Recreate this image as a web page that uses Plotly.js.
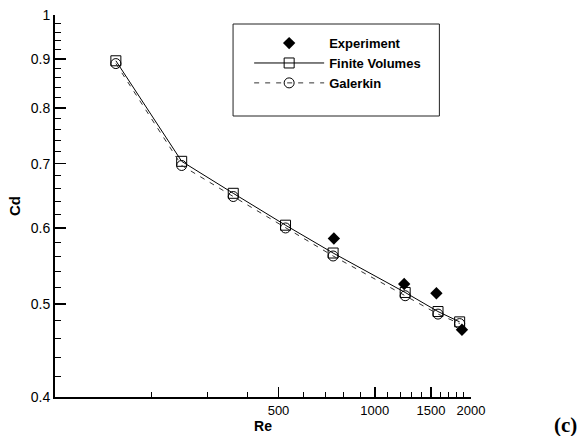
<!DOCTYPE html>
<html><head><meta charset="utf-8">
<script src="https://cdn.plot.ly/plotly-3.0.1.min.js"></script>
<style>html,body{margin:0;padding:0;background:#fff}#chart{width:586px;height:436px}</style>
</head><body><div id="chart"></div>
<script>
// Data
const re = [155, 249, 361, 526, 741, 1245, 1577, 1843];
const cdFiniteVolumes = [0.896, 0.704, 0.652, 0.604, 0.565, 0.514, 0.491, 0.479];
const cdGalerkin = [0.890, 0.697, 0.647, 0.600, 0.561, 0.510, 0.488, 0.477];
const reExperiment = [745, 1236, 1559, 1874];
const cdExperiment = [0.585, 0.5245, 0.513, 0.470];

// Tick values and labels
const xMajorTicks = [500, 1000, 1500, 2000];
const xMajorLabels = ['500', '1000', '1500', '2000'];
const xMinorTicks = [200, 300, 400, 600, 700, 800, 900, 1100, 1200, 1300, 1400, 1600, 1700, 1800, 1900];
const yMajorTicks = [0.4, 0.5, 0.6, 0.7, 0.8, 0.9, 1];
const yMajorLabels = ['0.4', '0.5', '0.6', '0.7', '0.8', '0.9', '1'];
const yMinorTicks = [0.42, 0.44, 0.46, 0.48, 0.52, 0.54, 0.56, 0.58, 0.62, 0.64, 0.66, 0.68,
  0.72, 0.74, 0.76, 0.78, 0.82, 0.84, 0.86, 0.88, 0.92, 0.94, 0.96, 0.98];

const font = 'Liberation Sans, Arial, sans-serif';

const traces = [
  {
    x: re, y: cdFiniteVolumes, name: 'Finite Volumes', type: 'scatter', mode: 'lines+markers',
    line: {color: '#000', width: 1},
    marker: {symbol: 'square-open', size: 10, color: '#000', line: {width: 1, color: '#000'}},
    legendrank: 2
  },
  {
    x: re, y: cdGalerkin, name: 'Galerkin', type: 'scatter', mode: 'lines+markers',
    line: {color: '#333', width: 1, dash: '5px,6px'},
    marker: {symbol: 'circle-open', size: 10, color: '#000', line: {width: 1, color: '#000'}},
    legendrank: 3
  },
  {
    x: reExperiment, y: cdExperiment, name: 'Experiment', type: 'scatter', mode: 'markers',
    marker: {symbol: 'diamond', size: 9.5, color: '#000'},
    legendrank: 1
  }
];

const layout = {
  width: 586, height: 436,
  margin: {l: 55, r: 115.3, t: 15, b: 39, autoexpand: false},
  paper_bgcolor: '#fff', plot_bgcolor: '#fff',
  showlegend: true,
  font: {family: font, color: '#000'},
  xaxis: {
    type: 'log', range: [2, Math.log10(2000)],
    tickmode: 'array', tickvals: xMajorTicks, ticktext: xMajorLabels,
    ticks: 'inside', ticklen: 10, tickwidth: 1.5, tickcolor: '#000',
    tickfont: {family: font, size: 13, color: '#000'},
    minor: {tickmode: 'array', tickvals: xMinorTicks, ticks: 'inside', ticklen: 5, tickwidth: 1, tickcolor: '#000', showgrid: false},
    showline: true, linecolor: '#000', linewidth: 2,
    showgrid: false, zeroline: false, automargin: false,
    title: {text: '<b>Re</b>', font: {family: font, size: 14, color: '#000'}, standoff: 2}
  },
  yaxis: {
    type: 'log', range: [Math.log10(0.4), 0],
    tickmode: 'array', tickvals: yMajorTicks, ticktext: yMajorLabels,
    ticks: 'inside', ticklen: 11, tickwidth: 1.5, tickcolor: '#000',
    tickfont: {family: font, size: 14, color: '#000'},
    minor: {tickmode: 'array', tickvals: yMinorTicks, ticks: 'inside', ticklen: 6, tickwidth: 1, tickcolor: '#000', showgrid: false},
    showline: true, linecolor: '#000', linewidth: 2,
    showgrid: false, zeroline: false, automargin: false,
    title: {text: '<b>Cd</b>', font: {family: font, size: 15, color: '#000'}, standoff: 6}
  },
  legend: {
    x: 0.4667, xanchor: 'left', y: 0.874, yanchor: 'middle',
    bgcolor: 'rgba(0,0,0,0)', borderwidth: 0,
    itemwidth: 70,
    font: {family: font, size: 13, color: '#000', weight: 'bold'}
  },
  shapes: [{
    type: 'rect', xref: 'paper', yref: 'paper',
    x0: 0.428, x1: 0.924, y0: 0.7356, y1: 0.9764,
    line: {color: '#222', width: 1}, fillcolor: 'rgba(0,0,0,0)', layer: 'below'
  }],
  annotations: [{
    text: '<b>(c)</b>', xref: 'paper', yref: 'paper', x: 1.227, y: -0.073,
    xanchor: 'center', yanchor: 'middle', showarrow: false,
    font: {family: 'Liberation Serif, Times New Roman, serif', size: 21, color: '#000'}
  }]
};

Plotly.newPlot('chart', traces, layout, {displayModeBar: false, staticPlot: true});
</script>
</body></html>
